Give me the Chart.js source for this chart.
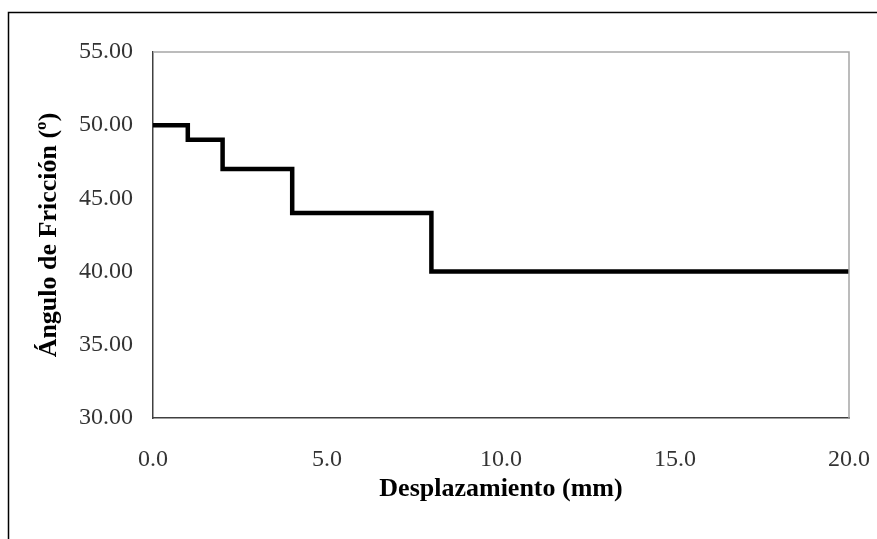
<!DOCTYPE html>
<html>
<head>
<meta charset="utf-8">
<script src="https://cdn.jsdelivr.net/npm/chart.js@4"></script>
<style>
  html, body { margin: 0; padding: 0; background: #fff; }
  #wrap { width: 877px; height: 539px; }
</style>
</head>
<body>
<div id="wrap"><canvas id="frictionChart" width="877" height="539"></canvas></div>
<script>
const displacement = [0, 1, 2, 4, 8, 20];
const frictionAngle = [50, 49, 47, 44, 40, 40];
const xTicks = [0, 5, 10, 15, 20];
const yTicks = [30, 35, 40, 45, 50, 55];

const serif = "'Liberation Serif', 'DejaVu Serif', serif";

// outer chart frame + grey top/right edges of the plot area
const framePlugin = {
  id: 'frame',
  beforeDraw(chart) {
    const ctx = chart.ctx;
    ctx.save();
    ctx.fillStyle = '#fff';
    ctx.fillRect(0, 0, chart.width, chart.height);
    ctx.strokeStyle = '#000';
    ctx.lineWidth = 1.5;
    ctx.beginPath();
    ctx.moveTo(8.5, chart.height + 2);
    ctx.lineTo(8.5, 12.5);
    ctx.lineTo(chart.width + 2, 12.5);
    ctx.stroke();
    ctx.restore();
  },
  afterDatasetsDraw(chart) {
    const a = chart.chartArea;
    const ctx = chart.ctx;
    ctx.save();
    ctx.strokeStyle = '#a6a6a6';
    ctx.lineWidth = 1.5;
    ctx.beginPath();
    ctx.moveTo(a.left, a.top);
    ctx.lineTo(a.right, a.top);
    ctx.lineTo(a.right, a.bottom);
    ctx.stroke();
    ctx.restore();
  }
};

new Chart(document.getElementById('frictionChart'), {
  type: 'scatter',
  data: {
    datasets: [{
      data: displacement.map((x, i) => ({ x, y: frictionAngle[i] })),
      showLine: true,
      stepped: 'before',
      borderColor: '#000',
      borderWidth: 4.5,
      pointRadius: 0,
      fill: false
    }]
  },
  options: {
    responsive: false,
    animation: false,
    layout: { padding: { top: 52, right: 28, left: 0, bottom: 34 } },
    plugins: { legend: { display: false }, tooltip: { enabled: false } },
    scales: {
      x: {
        type: 'linear',
        min: 0, max: 20,
        afterBuildTicks: s => { s.ticks = xTicks.map(v => ({ value: v })); },
        afterFit: s => { s.height = 87; s.paddingLeft = 0; s.paddingRight = 0; },
        grid: { display: false, drawTicks: false },
        border: { display: true, color: '#404040', width: 1.5 },
        ticks: {
          padding: 27,
          color: '#333',
          font: { family: serif, size: 24 },
          callback: v => v.toFixed(1),
          maxRotation: 0
        },
        title: {
          display: true,
          text: 'Desplazamiento (mm)',
          color: '#000',
          font: { family: serif, size: 26, weight: 'bold' },
          padding: { top: 0, bottom: 0 }
        }
      },
      y: {
        type: 'linear',
        min: 30, max: 55,
        afterBuildTicks: s => { s.ticks = yTicks.map(v => ({ value: v })); },
        afterFit: s => { s.width = 153; s.paddingTop = 0; s.paddingBottom = 0; },
        grid: { display: false, drawTicks: false },
        border: { display: true, color: '#404040', width: 1.5 },
        ticks: {
          padding: 20,
          color: '#333',
          font: { family: serif, size: 24 },
          callback: v => v.toFixed(2)
        },
        title: {
          display: true,
          text: 'Ángulo de Fricción (º)',
          color: '#000',
          font: { family: serif, size: 26, weight: 'bold' },
          padding: { top: 34 }
        }
      }
    }
  },
  plugins: [framePlugin]
});
</script>
</body>
</html>
